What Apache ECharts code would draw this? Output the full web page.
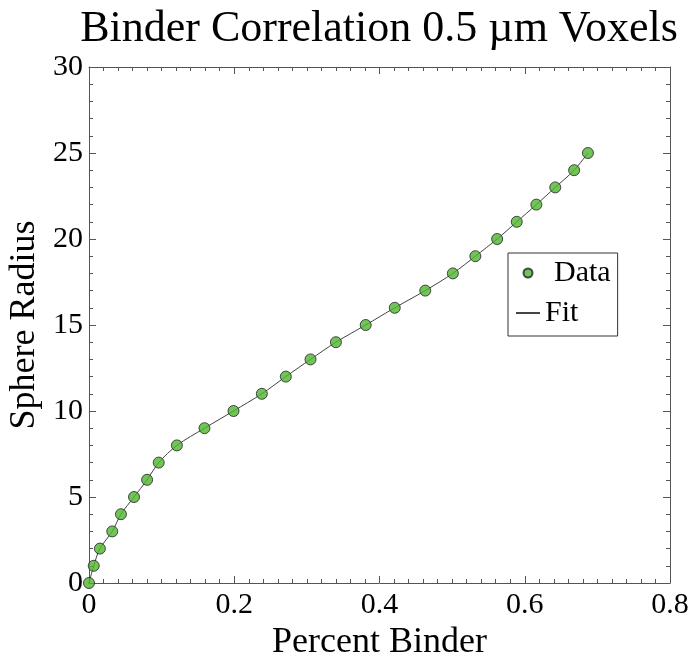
<!DOCTYPE html>
<html>
<head>
<meta charset="utf-8">
<script src="https://cdn.jsdelivr.net/npm/echarts@6/dist/echarts.min.js"></script>
<style>
  html, body { margin: 0; padding: 0; background: #fff; }
  #chart { width: 691px; height: 655px; }
</style>
</head>
<body>
<div id="chart"></div>
<script>
// percent binder (x) vs sphere radius (y)
const percentBinder = [0, 0.0065, 0.015, 0.032, 0.044, 0.062, 0.080, 0.096, 0.121, 0.159,
  0.199, 0.238, 0.271, 0.305, 0.340, 0.381, 0.421, 0.463, 0.501, 0.532,
  0.562, 0.589, 0.616, 0.642, 0.668, 0.687]
const sphereRadius = [0, 1, 2, 3, 4, 5, 6, 7, 8, 9, 10, 11, 12, 13, 14, 15, 16, 17, 18, 19,
  20, 21, 22, 23, 24, 25]
const xTicks = ['0', '0.2', '0.4', '0.6', '0.8']
const yTicks = ['0', '5', '10', '15', '20', '25', '30']

const pts = percentBinder.map((x, i) => [x, sphereRadius[i]])
const font = 'Liberation Serif, Times New Roman, serif'
const axisColor = '#555'

let myChart = echarts.init(document.getElementById('chart'))

const baseX = {
  type: 'value', min: 0, max: 0.8, interval: 0.2,
  axisLine: { show: true, onZero: false, lineStyle: { color: axisColor } },
  axisTick: { show: true, inside: true, length: 7, lineStyle: { color: axisColor } },
  minorTick: { show: true, splitNumber: 10, length: 4, lineStyle: { color: axisColor } },
  splitLine: { show: false }
}
const baseY = {
  type: 'value', min: 0, max: 30, interval: 5,
  axisLine: { show: true, onZero: false, lineStyle: { color: axisColor } },
  axisTick: { show: true, inside: true, length: 7, lineStyle: { color: axisColor } },
  minorTick: { show: true, splitNumber: 5, length: 4, lineStyle: { color: axisColor } },
  splitLine: { show: false }
}

myChart.setOption({
  animation: false,
  backgroundColor: '#fff',
  title: {
    text: 'Binder Correlation 0.5 \u00b5m Voxels',
    left: 374, top: 2, textAlign: 'center',
    textStyle: { fontFamily: font, fontSize: 44, fontWeight: 'normal', color: '#000' }
  },
  grid: { left: 89, right: 21, top: 67, bottom: 72, containLabel: false, outerBoundsMode: 'none' },
  legend: {
    orient: 'vertical',
    left: 508, top: 253,
    padding: [5, 7, 8, 7],
    itemGap: 10,
    borderColor: '#333', borderWidth: 1,
    backgroundColor: '#fff',
    itemWidth: 24, itemHeight: 9,
    textStyle: {
      fontFamily: font, fontSize: 30, color: '#000',
      rich: { d: { fontFamily: font, fontSize: 30, color: '#000', padding: [0, 0, 0, 9] } }
    },
    formatter: n => n === 'Data' ? '{d|Data}' : n,
    data: [
      { name: 'Data', icon: 'circle' },
      { name: 'Fit', itemStyle: { opacity: 0 } }
    ]
  },
  xAxis: [
    Object.assign({}, baseX, {
      position: 'bottom',
      name: 'Percent Binder', nameLocation: 'middle', nameGap: 36,
      nameTextStyle: { fontFamily: font, fontSize: 36, color: '#000' },
      axisLabel: {
        fontFamily: font, fontSize: 30, color: '#000', margin: 7,
        formatter: v => xTicks[Math.round(v / 0.2)]
      }
    }),
    Object.assign({}, baseX, { position: 'top', axisLabel: { show: false } })
  ],
  yAxis: [
    Object.assign({}, baseY, {
      position: 'left',
      name: 'Sphere Radius', nameLocation: 'middle', nameGap: 44,
      nameTextStyle: { fontFamily: font, fontSize: 36, color: '#000' },
      axisLabel: {
        fontFamily: font, fontSize: 30, color: '#000', margin: 6,
        formatter: v => yTicks[Math.round(v / 5)]
      }
    }),
    Object.assign({}, baseY, { position: 'right', axisLabel: { show: false } })
  ],
  series: [
    {
      name: 'Fit',
      type: 'line',
      data: pts,
      smooth: 0.3,
      symbol: 'none',
      lineStyle: { color: '#444', width: 1 },
      itemStyle: { color: '#444' },
      z: 2
    },
    {
      name: 'Data',
      type: 'scatter',
      data: pts,
      symbolSize: 11,
      itemStyle: { color: '#4db52d', borderColor: '#222', borderWidth: 1 },
      z: 3
    }
  ]
})
</script>
</body>
</html>
